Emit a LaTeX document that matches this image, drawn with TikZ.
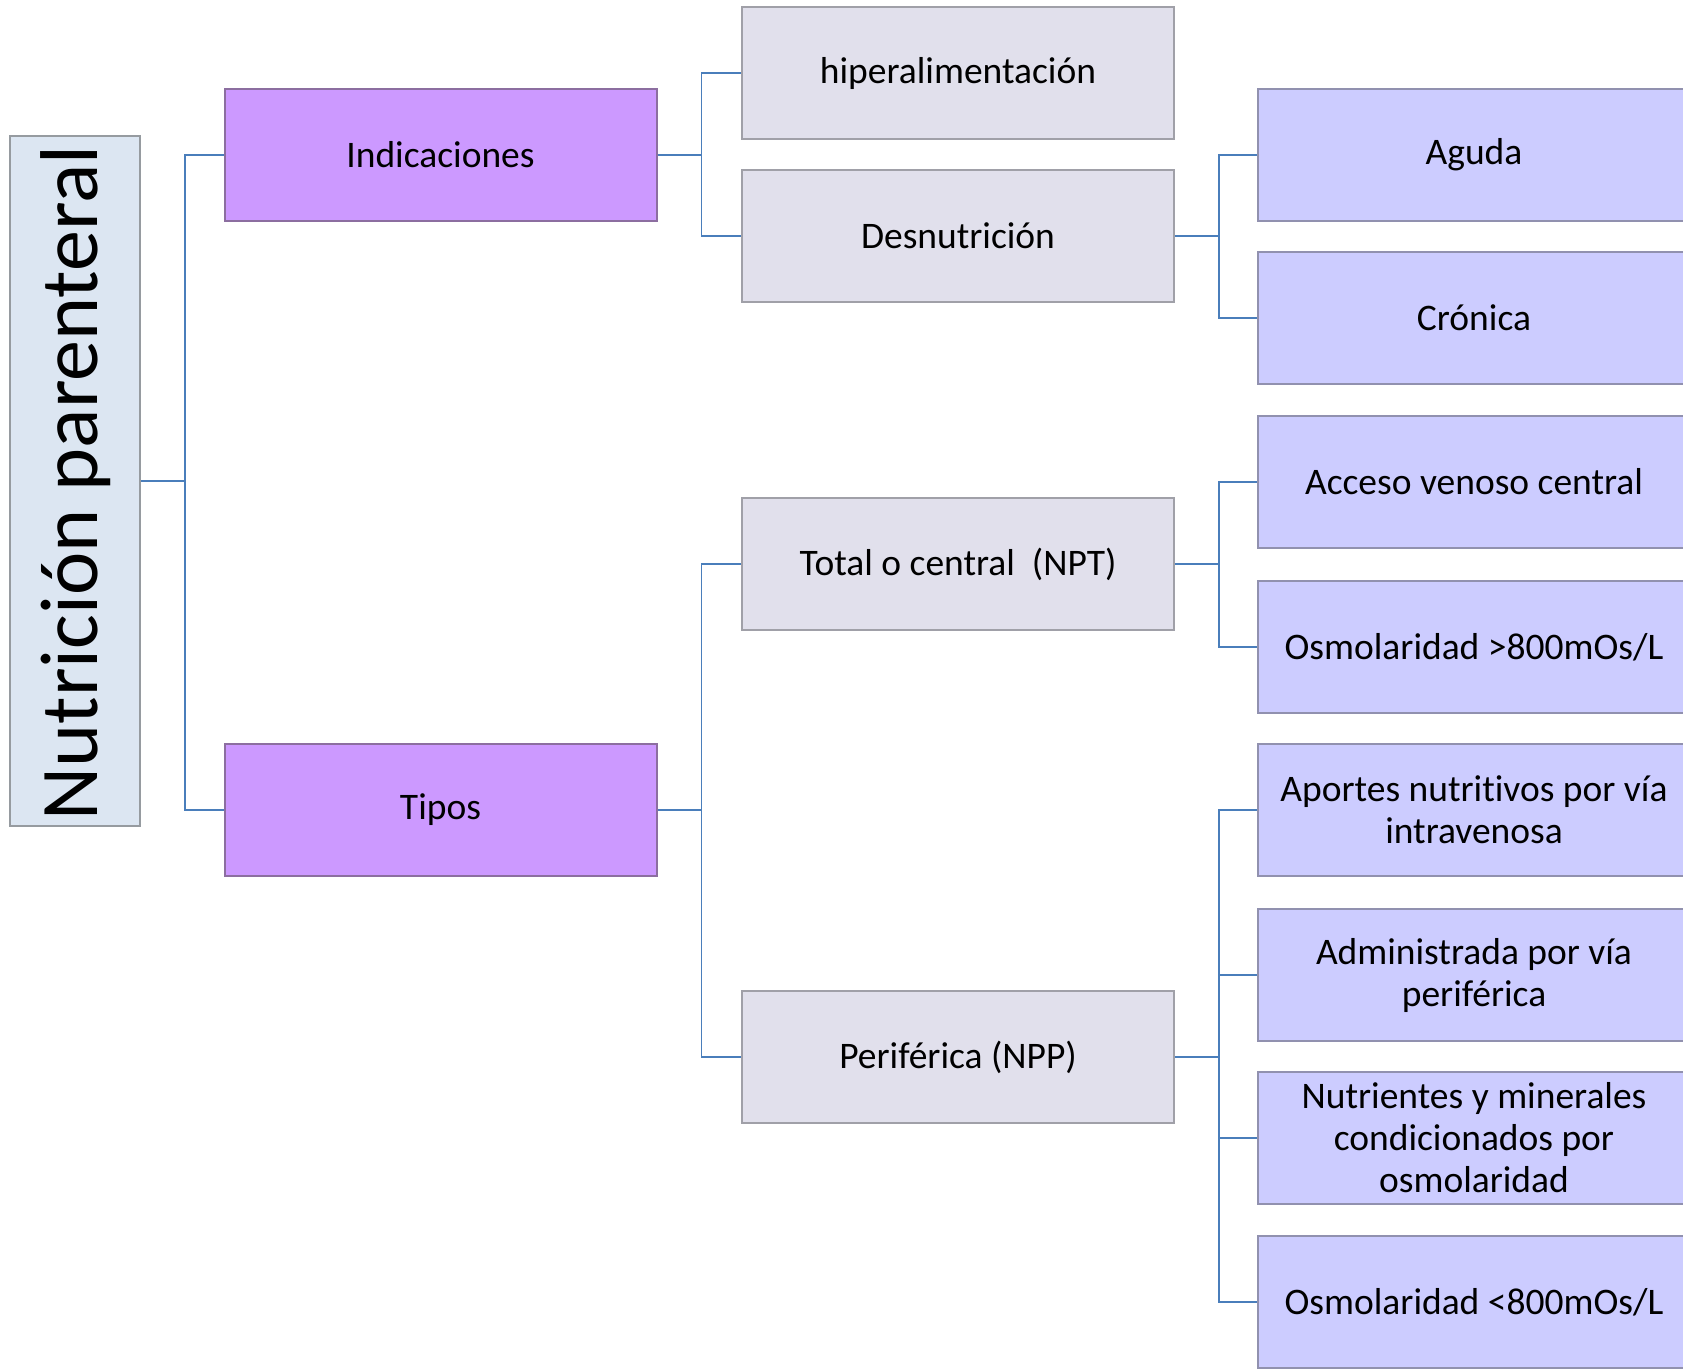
\documentclass[tikz,border=0pt]{standalone}
\usepackage{fontspec}
\setmainfont{Carlito}[Ligatures=NoCommon]
\definecolor{conn}{RGB}{74,126,187}
\definecolor{rootfill}{RGB}{220,230,242}
\definecolor{rootdraw}{RGB}{150,155,160}
\definecolor{purfill}{RGB}{204,153,255}
\definecolor{purdraw}{RGB}{140,110,160}
\definecolor{grayfill}{RGB}{225,224,236}
\definecolor{graydraw}{RGB}{160,160,168}
\definecolor{bluefill}{RGB}{204,204,255}
\definecolor{bluedraw}{RGB}{145,145,175}
\tikzset{
  box/.style={rectangle, draw, line width=2pt, minimum width=432pt, minimum height=132pt,
    inner sep=0pt, align=center, font=\fontsize{37.5}{42}\selectfont, text=black},
  purbox/.style={box, fill=purfill, draw=purdraw},
  graybox/.style={box, fill=grayfill, draw=graydraw},
  bluebox/.style={box, fill=bluefill, draw=bluedraw},
  rootbox/.style={rectangle, draw=rootdraw, fill=rootfill, line width=2pt, minimum width=130pt,
    minimum height=690pt, inner sep=0pt},
  conn/.style={draw=conn, line width=1.6pt},
  branch/.style={conn, to path={-- ++(44,0) |- (\tikztotarget)}}
}
\begin{document}
\begin{tikzpicture}[x=1pt,y=-1pt]
\useasboundingbox (0,0) rectangle (1683,1369);
\clip (0,0) rectangle (1683,1369);
\fill[white] (0,0) rectangle (1683,1369);
% root
\node[rootbox] (root) at (75,481) {};
\node[rotate=90, font=\fontsize{82}{96}\selectfont, text=black] (roottext) at (76,483) {Nutrición parenteral};
% level 1
\node[purbox] (ind) at (440.5,155) {Indicaciones};
\node[purbox] (tip) at (440.5,810) {Tipos};
% level 2
\node[graybox] (hip) at (958,73) {hiperalimentación};
\node[graybox] (des) at (958,236) {Desnutrición};
\node[graybox] (tot) at (958,564) {Total o central\ \ (NPT)};
\node[graybox] (per) at (958,1057) {Periférica (NPP)};
% level 3
\node[bluebox] (agu) at (1474,155) {Aguda};
\node[bluebox] (cro) at (1474,318) {Crónica};
\node[bluebox] (acc) at (1474,482) {Acceso venoso central};
\node[bluebox] (osm1) at (1474,647) {Osmolaridad >800mOs/L};
\node[bluebox] (apo) at (1474,810) {Aportes nutritivos por vía\\intravenosa};
\node[bluebox] (adm) at (1474,975) {Administrada por vía\\periférica};
\node[bluebox] (nut) at (1474,1138) {Nutrientes y minerales\\condicionados por\\osmolaridad};
\node[bluebox] (osm2) at (1474,1302) {Osmolaridad <800mOs/L};
% connectors
\draw (root.east) edge[branch] (ind.west) edge[branch] (tip.west);
\draw (ind.east) edge[branch] (hip.west) edge[branch] (des.west);
\draw (tip.east) edge[branch] (tot.west) edge[branch] (per.west);
\draw (des.east) edge[branch] (agu.west) edge[branch] (cro.west);
\draw (tot.east) edge[branch] (acc.west) edge[branch] (osm1.west);
\draw (per.east) edge[branch] (apo.west) edge[branch] (adm.west) edge[branch] (nut.west) edge[branch] (osm2.west);
\end{tikzpicture}
\end{document}
